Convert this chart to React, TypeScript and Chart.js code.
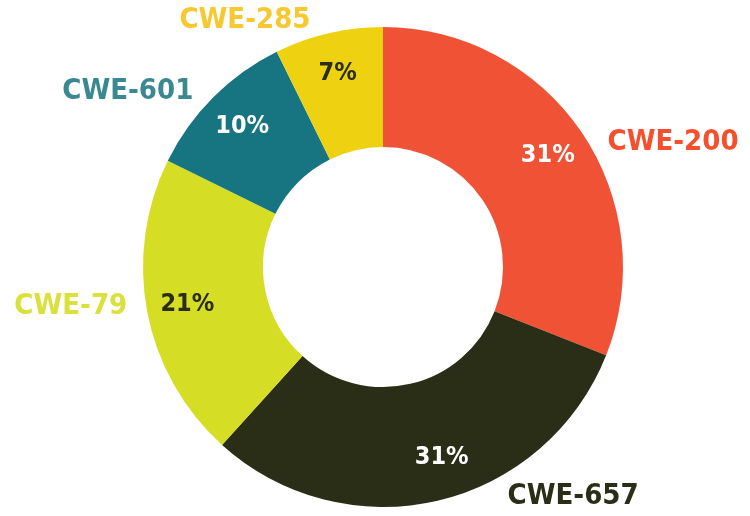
import React, { useEffect, useRef } from "react";
import { Chart, registerables } from "chart.js";

Chart.register(...registerables);

const categories = ["CWE-200", "CWE-657", "CWE-79", "CWE-601", "CWE-285"];
const values = [31.0, 30.7, 20.6, 10.4, 7.3];
const sliceColors = ["#f05236", "#2b2e17", "#d5dd25", "#167580", "#eed212"];
const labelColors = ["#f4502e", "#2b2e17", "#d9e13a", "#3a8890", "#f7c830"];
const pctColors = ["#ffffff", "#ffffff", "#2b2e17", "#ffffff", "#2b2e17"];

const FONT = '"DejaVu Sans Condensed", "DejaVu Sans", sans-serif';

const labelPlugin = {
  id: "outerLabels",
  afterDatasetsDraw(chart: any) {
    const ctx = chart.ctx;
    const meta = chart.getDatasetMeta(0);
    const total = values.reduce((a, b) => a + b, 0);
    ctx.save();
    meta.data.forEach((arc: any, i: number) => {
      const { x, y, startAngle, endAngle, outerRadius } = arc.getProps(
        ["x", "y", "startAngle", "endAngle", "outerRadius"],
        true
      );
      const mid = (startAngle + endAngle) / 2;
      const s = Math.sin(mid);
      // percent label
      const pr = outerRadius * 0.83;
      const pm = s > 0.9 ? mid - 0.07 : mid;
      ctx.font = `bold 25px ${FONT}`;
      ctx.fillStyle = pctColors[i];
      ctx.textAlign = "center";
      ctx.textBaseline = "middle";
      const pct = Math.round((values[i] / total) * 100) + "%";
      ctx.fillText(pct, x + Math.cos(pm) * pr, y + Math.sin(pm) * pr);
      // category label
      const rx = x + Math.cos(mid) * outerRadius;
      const ry = y + s * outerRadius;
      const right = Math.cos(mid) >= 0;
      ctx.font = `bold 29px ${FONT}`;
      ctx.fillStyle = labelColors[i];
      ctx.textAlign = right ? "left" : "right";
      const gap = s > 0.9 ? 70 : s < -0.9 ? 18 : right ? 26 : 20;
      const dy = s < -0.9 ? -13 : s > 0.9 ? -4 : right ? 10 : -6;
      ctx.fillText(categories[i], rx + (right ? gap : -gap), ry + dy);
    });
    ctx.restore();
  },
};

export default function App() {
  const ref = useRef<HTMLCanvasElement>(null);
  useEffect(() => {
    const chart = new Chart(ref.current as HTMLCanvasElement, {
      type: "doughnut",
      data: {
        labels: categories,
        datasets: [
          {
            data: values,
            backgroundColor: sliceColors,
            borderWidth: 0,
          },
        ],
      },
      options: {
        responsive: false,
        animation: false,
        cutout: "50%",
        layout: { padding: { top: 27, bottom: 9, left: 140, right: 124 } },
        plugins: {
          legend: { display: false },
          tooltip: { enabled: false },
        },
      },
      plugins: [labelPlugin],
    });
    return () => chart.destroy();
  }, []);
  return (
    <div style={{ position: "fixed", left: 0, top: 0, width: 750, height: 516, background: "#fff" }}>
      <canvas ref={ref} width={750} height={516} />
    </div>
  );
}
